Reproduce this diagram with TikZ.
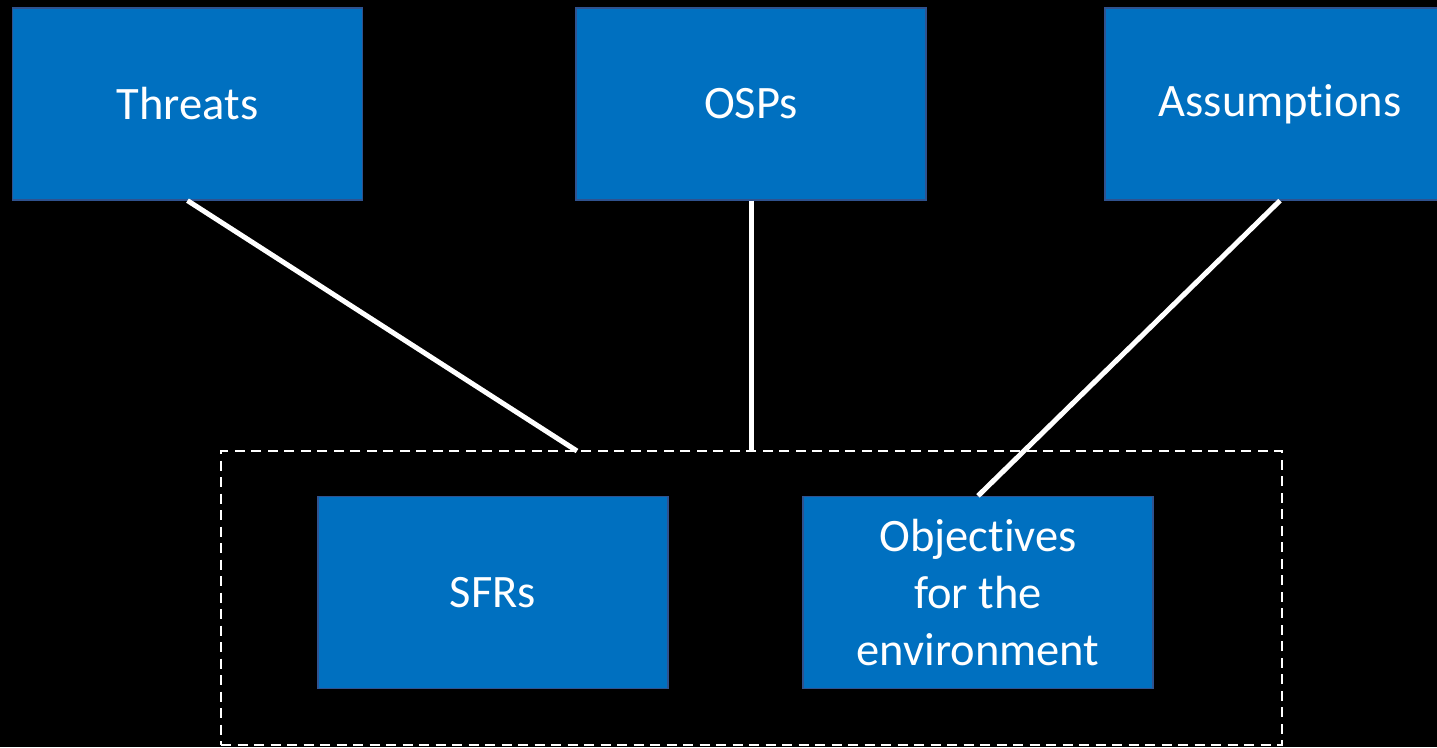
\documentclass[tikz,border=0pt]{standalone}
\usepackage{fontspec}
\setmainfont{Carlito}[Ligatures={NoCommon}]
\definecolor{boxblue}{HTML}{0070C0}
\definecolor{boxedge}{HTML}{2F528F}
\begin{document}
\begin{tikzpicture}[x=1pt,y=-1pt,
  block/.style={rectangle, fill=boxblue, draw=boxedge, line width=1.2pt,
    minimum width=350pt, minimum height=192pt, inner sep=0pt,
    text=white, font=\fontsize{46.5}{57}\selectfont, align=center},
  link/.style={draw=white, line width=5pt},
  frame/.style={rectangle, draw=white, line width=2.6pt, dash pattern=on 10pt off 6.5pt,
    minimum width=1061pt, minimum height=294pt, inner sep=0pt}]
  \useasboundingbox (0,0) rectangle (1437,747);
  \fill[black] (0,0) rectangle (1437,747);
  \clip (0,0) rectangle (1437,747);

  % grouping frame around the lower pair
  \node[frame] (group) at (751.5,598) {};

  % top row
  \node[block] (threats) at (187.5,104) {Threats};
  \node[block] (osps) at (751,104) {OSPs};
  \node[block] (assumptions) at (1280,104) {Assumptions};

  % lower row
  \node[block] (sfrs) at (493,592.5) {SFRs};
  \node[block] (objenv) at (978,592.5) {Objectives\\for the\\environment};

  % connectors
  \coordinate (tin) at (577,451);
  \draw[link] (threats.south) -- (tin);
  \draw[link] (osps.south) -- (osps.south |- group.north);
  \draw[link] (assumptions.south) -- (objenv.north);
\end{tikzpicture}
\end{document}
